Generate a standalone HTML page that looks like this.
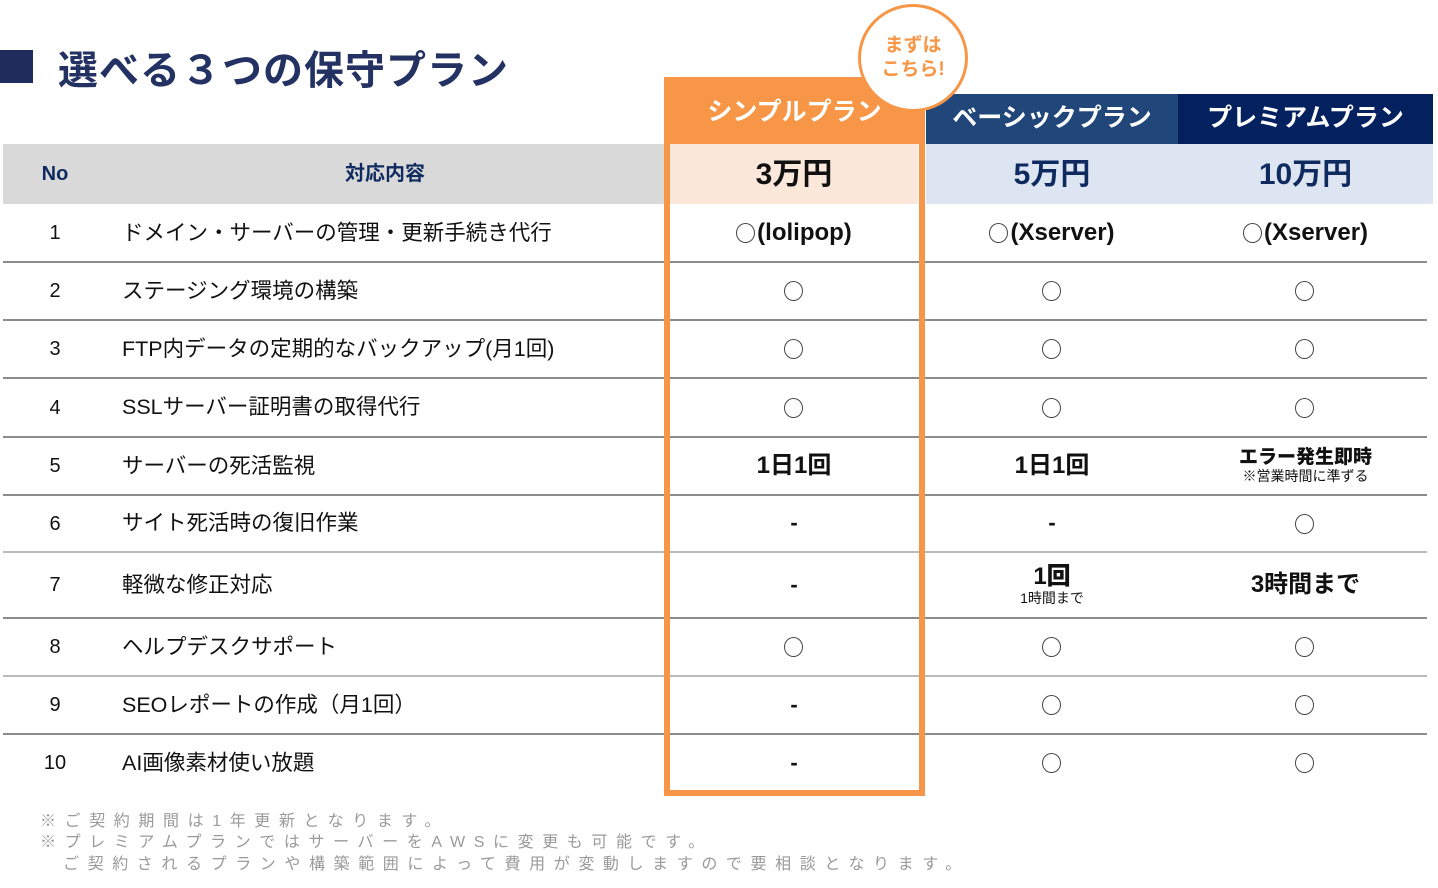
<!DOCTYPE html>
<html><head><meta charset="utf-8"><style>
*{margin:0;padding:0;box-sizing:border-box}
body{width:1438px;height:888px;background:#fff;position:relative;overflow:hidden;font-family:"Liberation Sans","Noto Sans CJK JP",sans-serif;color:#111}
.a{position:absolute}
.c{position:absolute;display:flex;align-items:center;justify-content:center;flex-direction:column;text-align:center;line-height:1.1}
.line{position:absolute;left:3px;width:1424px;height:2px;background:#8c8c8c}
.t{font-size:24px;font-weight:bold}
.dash{font-size:22px;font-weight:bold}
.circ{display:inline-block;width:19px;height:20px;border:1.5px solid #444;border-radius:50%;vertical-align:middle;margin-right:2px}
.foot{position:absolute;left:40px;font-size:16px;color:#9a9a9a;letter-spacing:8.6px;white-space:nowrap}
</style></head><body>
<div class="a" style="left:0;top:50px;width:33px;height:33px;background:#1f2d5c"></div>
<div class="a" style="left:58px;top:38px;font-size:40px;font-weight:bold;color:#233262;letter-spacing:1px">選べる３つの保守プラン</div>

<div class="a" style="left:3px;top:144px;width:661px;height:60px;background:#d9d9d9"></div>
<div class="c" style="left:20px;top:144px;width:70px;height:60px;font-size:20px;font-weight:bold;color:#0f2a5e">No</div>
<div class="c" style="left:110px;top:144px;width:550px;height:60px;font-size:20px;font-weight:bold;color:#0f2a5e">対応内容</div>

<div class="a" style="left:664px;top:77px;width:261px;height:67px;background:#f79646"></div>
<div class="c" style="left:664px;top:90px;width:261px;height:45px;color:#fff;font-size:25px;font-weight:bold">シンプルプラン</div>
<div class="a" style="left:670px;top:144px;width:248px;height:60px;background:#fce8da"></div>
<div class="c" style="left:670px;top:144px;width:248px;height:60px;font-size:30px;font-weight:bold;color:#111">3万円</div>

<div class="a" style="left:926px;top:94px;width:252px;height:50px;background:#21477a"></div>
<div class="c" style="left:926px;top:94px;width:252px;height:50px;color:#fff;font-size:25px;font-weight:bold">ベーシックプラン</div>
<div class="a" style="left:1178px;top:94px;width:255px;height:50px;background:#03205f"></div>
<div class="c" style="left:1178px;top:94px;width:255px;height:50px;color:#fff;font-size:25px;font-weight:bold">プレミアムプラン</div>
<div class="a" style="left:926px;top:144px;width:507px;height:60px;background:#dce5f1"></div>
<div class="c" style="left:926px;top:144px;width:252px;height:60px;font-size:30px;font-weight:bold;color:#0f2a5e">5万円</div>
<div class="c" style="left:1178px;top:144px;width:255px;height:60px;font-size:30px;font-weight:bold;color:#0f2a5e">10万円</div>

<div class="c" style="left:858px;top:4px;width:110px;height:108px;border-radius:50%;border:3px solid #f79646;background:#fff;color:#f79646;font-size:19px;font-weight:bold;line-height:1.25">まずは<br>こちら!</div>

<div class="line" style="top:261px"></div><div class="line" style="top:319px"></div><div class="line" style="top:377px"></div><div class="line" style="top:436px"></div><div class="line" style="top:494px"></div><div class="line" style="top:551px;background:#bbb"></div><div class="line" style="top:617px"></div><div class="line" style="top:675px;background:#bbb"></div><div class="line" style="top:733px"></div>

<div id="rows"></div>

<div class="a" style="left:664px;top:140px;width:261px;height:656px;border:6px solid #f79646;border-top:none"></div>

<div class="foot" style="top:807px">※ご契約期間は1年更新となります。</div>
<div class="foot" style="top:828px">※プレミアムプランではサーバーをAWSに変更も可能です。</div>
<div class="foot" style="top:850px;left:63px">ご契約されるプランや構築範囲によって費用が変動しますので要相談となります。</div>

<script>
const tops=[204,262,320,378,437,495,552,618,676,734,792];
const items=["ドメイン・サーバーの管理・更新手続き代行","ステージング環境の構築","FTP内データの定期的なバックアップ(月1回)","SSLサーバー証明書の取得代行","サーバーの死活監視","サイト死活時の復旧作業","軽微な修正対応","ヘルプデスクサポート","SEOレポートの作成（月1回）","AI画像素材使い放題"];
const simple=["○(lolipop)","○","○","○","1日1回","-","-","○","-","-"];
const basic=["○(Xserver)","○","○","○","1日1回","-","1回|1時間まで","○","○","○"];
const premium=["○(Xserver)","○","○","○","エラー発生即時|※営業時間に準ずる","○","3時間まで","○","○","○"];
const root=document.getElementById('rows');
function render(v){
 const circ="<span class='circ'></span>";
 if(v==='○') return circ;
 if(v==='-') return '-';
 if(v.startsWith('○')) return "<span style='white-space:nowrap'>"+circ+v.slice(1)+"</span>";
 if(v.includes('|')){const p=v.split('|');return `<b style='font-size:${p[0].length>4?19:24}px'>${p[0]}</b><span style='font-size:14px;font-weight:normal'>${p[1]}</span>`;}
 return v;
}
function cell(l,w,t,h,v,name){
 const d=document.createElement('div');
 d.className='c '+(v==='-'?'dash':'t');
 d.style.cssText=`left:${l}px;width:${w}px;top:${t}px;height:${h}px`;
 d.innerHTML=render(v);
 
 
 root.appendChild(d);
}
items.forEach((txt,i)=>{
 const t=tops[i],h=tops[i+1]-t;
 const n=document.createElement('div');
 n.className='c';
 n.style.cssText=`left:20px;width:70px;top:${t}px;height:${h}px;font-size:20px`;
 n.textContent=String(i+1);
 
 
 root.appendChild(n);
 const d=document.createElement('div');
 d.className='a';
 d.style.cssText=`left:122px;top:${t}px;height:${h}px;line-height:${h}px;font-size:21.5px`;
 d.textContent=txt;
 
 
 root.appendChild(d);
 cell(670,248,t,h,simple[i],'simple-cell');
 cell(926,252,t,h,basic[i],'basic-cell');
 cell(1178,255,t,h,premium[i],'premium-cell');
});
</script>
</body></html>
